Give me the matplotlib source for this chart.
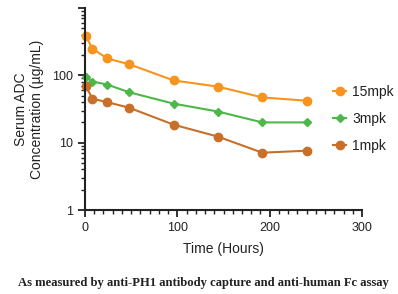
import matplotlib
matplotlib.use("Agg")
import matplotlib.pyplot as plt
from matplotlib.ticker import MultipleLocator, LogLocator, FixedLocator, FixedFormatter, NullFormatter

# sampling times (hours)
time_h = [1, 8, 24, 48, 96, 144, 192, 240]

# serum ADC concentration (ug/mL)
conc_15mpk = [380, 250, 178, 146, 84, 68, 47, 42]
conc_3mpk = [93, 81, 73, 56, 38, 29, 20, 20]
conc_1mpk = [69, 45, 40, 33, 18.5, 12.3, 7.1, 7.6]

series_labels = ["15mpk", "3mpk", "1mpk"]
series_colors = ["#F7941D", "#4DB848", "#C8702A"]
series_markers = ["o", "D", "o"]
series_sizes = [6, 4, 6]

plt.rcParams["font.family"] = ["Liberation Sans", "DejaVu Sans"]

fig = plt.figure(figsize=(3.98, 2.94), dpi=100)
ax = fig.add_axes([0.2136, 0.2857, 0.696, 0.687])

for vals, lab, col, mk, ms in zip([conc_15mpk, conc_3mpk, conc_1mpk],
                                   series_labels, series_colors,
                                   series_markers, series_sizes):
    ax.plot(time_h, vals, color=col, marker=mk, markersize=ms,
            linewidth=1.5, label=lab, clip_on=False)

ax.set_yscale("log")
ax.set_xlim(0, 300)
ax.set_ylim(1, 1000)

ax.xaxis.set_major_locator(MultipleLocator(100))
ax.xaxis.set_minor_locator(MultipleLocator(10))
ax.yaxis.set_major_locator(FixedLocator([1, 10, 100, 1000]))
ax.yaxis.set_major_formatter(FixedFormatter(["1", "10", "100", ""]))
ax.yaxis.set_minor_locator(LogLocator(base=10, subs=range(2, 10)))
ax.yaxis.set_minor_formatter(NullFormatter())

for side in ["top", "right"]:
    ax.spines[side].set_visible(False)
for side in ["left", "bottom"]:
    ax.spines[side].set_linewidth(1.5)
    ax.spines[side].set_color("#222222")

ax.tick_params(which="major", length=5, width=1.3, labelsize=9,
               colors="#222222", direction="out")
ax.tick_params(which="minor", length=3, width=1.0, colors="#222222")

ax.set_xlabel("Time (Hours)", fontsize=10, color="#222222", labelpad=6)
ax.set_ylabel("Serum ADC\nConcentration (\u00b5g/mL)", fontsize=10,
              color="#222222", labelpad=6, linespacing=1.2)

leg = ax.legend(loc="center left", bbox_to_anchor=(0.895, 0.45),
                borderaxespad=0, borderpad=0,
                frameon=False, fontsize=10, handlelength=0.95,
                labelspacing=0.95, handletextpad=0.45)
for t in leg.get_texts():
    t.set_color("#222222")

fig.text(0.51, 0.037,
         "As measured by anti-PH1 antibody capture and anti-human Fc assay",
         ha="center", va="center", fontsize=9.1, fontweight="bold",
         family=["Liberation Serif", "DejaVu Serif"], color="#222222")

fig.savefig("out.png", dpi=100)
